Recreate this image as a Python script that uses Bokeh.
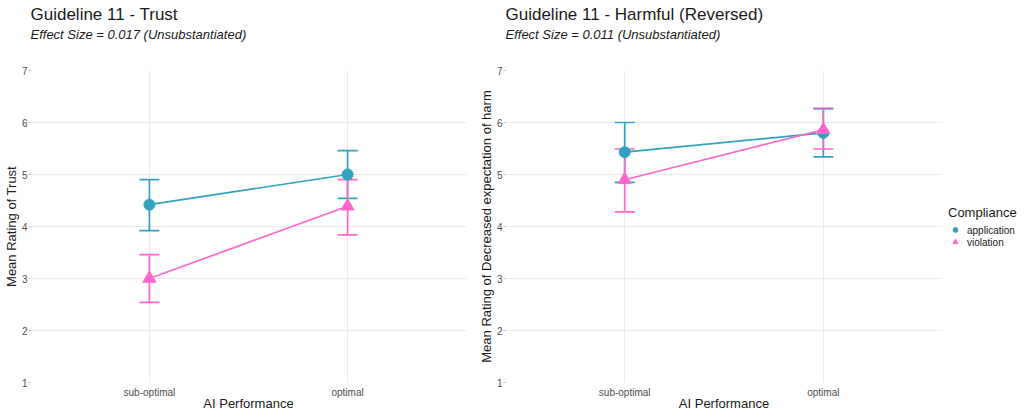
from bokeh.plotting import figure
from bokeh.layouts import row
from bokeh.models import (Range1d, FixedTicker, Title, Whisker, TeeHead, ColumnDataSource,
                          Legend, LegendItem)
from bokeh.embed import file_html
from bokeh.resources import INLINE

# ---- data ----
perf_positions = [1, 2]
perf_labels = ["sub-optimal", "optimal"]
groups = ["application", "violation"]

trust_app_mean = [4.42, 5.00]
trust_app_lo = [3.92, 4.54]
trust_app_hi = [4.90, 5.46]
trust_vio_mean = [3.00, 4.39]
trust_vio_lo = [2.54, 3.84]
trust_vio_hi = [3.46, 4.90]

harm_app_mean = [5.43, 5.80]
harm_app_lo = [4.85, 5.34]
harm_app_hi = [6.00, 6.27]
harm_vio_mean = [4.90, 5.86]
harm_vio_lo = [4.28, 5.49]
harm_vio_hi = [5.49, 6.26]

y_ticks = [1, 2, 3, 4, 5, 6, 7]

TEAL = "#31A3BD"
PINK = "#FF66CC"
FONT = "Liberation Sans"


def make_panel(title, subtitle, ylabel, app, vio, left_border, right_border, fw):
    p = figure(frame_width=fw, frame_height=312, output_backend="svg", toolbar_location=None,
               x_range=Range1d(0.4, 2.6), y_range=Range1d(1, 7),
               min_border_left=left_border, min_border_right=right_border,
               min_border_top=70, min_border_bottom=0)
    p.title = None
    # spacer between subtitle and plotting area
    p.add_layout(Title(text=" ", text_font=FONT, text_font_size="10px", standoff=16,
                       align="left"), "above")
    p.add_layout(Title(text=subtitle, text_font=FONT, text_font_size="13px",
                       text_font_style="italic", text_color="#1a1a1a", standoff=0,
                       align="left"), "above")
    p.add_layout(Title(text=title, text_font=FONT, text_font_size="17px",
                       text_font_style="normal", text_color="#1a1a1a", standoff=2,
                       align="left"), "above")
    p.outline_line_color = None
    p.background_fill_color = "white"

    p.xaxis.ticker = FixedTicker(ticks=perf_positions)
    p.xaxis.major_label_overrides = {k: v for k, v in zip(perf_positions, perf_labels)}
    p.yaxis.ticker = FixedTicker(ticks=y_ticks)
    p.xgrid.ticker = FixedTicker(ticks=perf_positions)
    p.ygrid.ticker = FixedTicker(ticks=y_ticks)
    for g in (p.xgrid, p.ygrid):
        g.grid_line_color = "#EBEBEB"
        g.grid_line_width = 1
    for ax in (p.xaxis, p.yaxis):
        ax.axis_line_color = None
        ax.major_tick_line_color = "#BBBBBB"
        ax.major_tick_out = 2
        ax.major_tick_in = 0
        ax.minor_tick_line_color = None
        ax.major_label_text_font = FONT
        ax.major_label_text_font_size = "10px"
        ax.major_label_text_color = "#4D4D4D"
        ax.axis_label_text_font = FONT
        ax.axis_label_text_font_size = "13px"
        ax.axis_label_text_font_style = "normal"
        ax.axis_label_text_color = "#1a1a1a"
        ax.major_label_standoff = 1
        ax.axis_label_standoff = 0
    p.xaxis.major_tick_out = 0
    p.xaxis.major_tick_line_color = None
    p.xaxis.major_label_standoff = 4
    p.xaxis.axis_label_standoff = -5
    p.xaxis.axis_label = "AI Performance"
    p.yaxis.axis_label = ylabel

    rends = []
    for (mean, lo, hi), color, marker, size in ((app, TEAL, "circle", 11),
                                                (vio, PINK, "triangle", 13)):
        src = ColumnDataSource(dict(x=perf_positions, y=mean, lo=lo, hi=hi))
        p.line("x", "y", source=src, line_color=color, line_width=1.7)
        w = Whisker(base="x", lower="lo", upper="hi", source=src, dimension="height",
                    line_color=color, line_width=1.7,
                    upper_head=TeeHead(size=20, line_color=color, line_width=1.7),
                    lower_head=TeeHead(size=20, line_color=color, line_width=1.7))
        p.add_layout(w)
        r = p.scatter("x", "y", source=src, marker=marker, size=size,
                      fill_color=color, line_color=color)
        rends.append(r)
    return p, rends


p1, _ = make_panel("Guideline 11 - Trust", "Effect Size =  0.017 (Unsubstantiated)",
                   "Mean Rating of Trust",
                   (trust_app_mean, trust_app_lo, trust_app_hi),
                   (trust_vio_mean, trust_vio_lo, trust_vio_hi), 29, 4, 436)
p2, rends = make_panel("Guideline 11 - Harmful (Reversed)", "Effect Size =  0.011 (Unsubstantiated)",
                       "Mean Rating of Decreased expectation of harm",
                       (harm_app_mean, harm_app_lo, harm_app_hi),
                       (harm_vio_mean, harm_vio_lo, harm_vio_hi), 35, 91, 437)

legend = Legend(items=[LegendItem(label=g, renderers=[r]) for g, r in zip(groups, rends)],
                title="Compliance", location="center_left",
                title_text_font=FONT, title_text_font_size="13px", title_text_font_style="normal",
                title_text_color="#1a1a1a", label_text_font=FONT, label_text_font_size="10px",
                label_text_color="#1a1a1a", glyph_height=12, glyph_width=14, label_height=11,
                spacing=0, padding=2, margin=6, border_line_color=None,
                background_fill_alpha=0, label_standoff=5, title_standoff=4)
p2.add_layout(legend, "right")

layout = row(p1, p2)
open("out.html", "w").write(file_html(layout, INLINE))
